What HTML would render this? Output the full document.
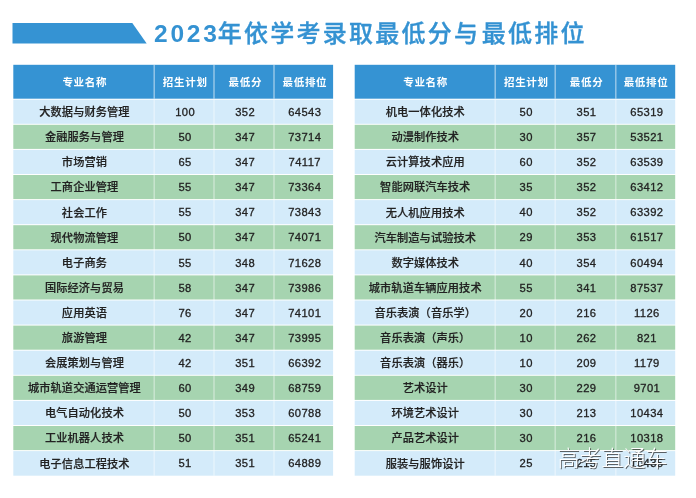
<!DOCTYPE html>
<html lang="zh-CN"><head><meta charset="utf-8"><title>2023年依学考录取最低分与最低排位</title>
<style>
html,body{margin:0;padding:0;}
body{width:696px;height:498px;background:#fff;position:relative;overflow:hidden;font-family:"Liberation Sans","Noto Sans CJK SC",sans-serif;}
.bg{position:absolute;left:0;top:0;}
.title{position:absolute;left:154px;top:14px;will-change:transform;transform:translateY(0.7px);height:38px;line-height:38px;font-size:24px;font-weight:500;-webkit-text-stroke:0.35px #3492d2;letter-spacing:2.25px;color:#3492d2;white-space:nowrap;}
.title .yr{letter-spacing:2.8px;margin-right:-2px;font-size:24.5px;font-weight:700;-webkit-text-stroke:0;position:relative;top:-0.3px;}
.title .yu{margin-right:1.5px;}
.h,.n,.d{position:absolute;will-change:transform;text-align:center;white-space:nowrap;}
.h{top:65.1px;height:34px;line-height:34px;color:#fff;font-weight:700;font-size:10.5px;letter-spacing:0.7px;text-indent:0.7px;margin-left:0.5px;}
.n,.d{height:25px;line-height:25px;font-size:11.2px;color:#222;font-weight:500;}
.n{margin-left:0.6px;letter-spacing:0.1px;-webkit-text-stroke:0.2px #222;}
.d{margin-left:0.9px;letter-spacing:0.4px;text-indent:0.4px;-webkit-text-stroke:0.3px #222;}
.wm{position:absolute;left:557.5px;top:443.5px;font-size:22px;line-height:30px;font-weight:300;color:#fff;text-shadow:1px 1px 0.5px rgba(50,50,50,0.75);white-space:nowrap;}
</style></head><body>
<svg class="bg" width="696" height="498" viewBox="0 0 696 498">
<polygon points="12.5,23 132.3,23 146.7,43.6 12.5,43.6" fill="#3593d3"/>
<rect x="13.3" y="64.8" width="319.8" height="33.9" fill="#3593d3"/>
<rect x="13.3" y="99.70" width="319.8" height="24.10" fill="#d4ebfa"/>
<rect x="13.3" y="124.80" width="319.8" height="24.10" fill="#a6d4b0"/>
<rect x="13.3" y="149.90" width="319.8" height="24.10" fill="#d4ebfa"/>
<rect x="13.3" y="175.00" width="319.8" height="24.10" fill="#a6d4b0"/>
<rect x="13.3" y="200.10" width="319.8" height="24.10" fill="#d4ebfa"/>
<rect x="13.3" y="225.20" width="319.8" height="24.10" fill="#a6d4b0"/>
<rect x="13.3" y="250.30" width="319.8" height="24.10" fill="#d4ebfa"/>
<rect x="13.3" y="275.40" width="319.8" height="24.10" fill="#a6d4b0"/>
<rect x="13.3" y="300.50" width="319.8" height="24.10" fill="#d4ebfa"/>
<rect x="13.3" y="325.60" width="319.8" height="24.10" fill="#a6d4b0"/>
<rect x="13.3" y="350.70" width="319.8" height="24.10" fill="#d4ebfa"/>
<rect x="13.3" y="375.80" width="319.8" height="24.10" fill="#a6d4b0"/>
<rect x="13.3" y="400.90" width="319.8" height="24.10" fill="#d4ebfa"/>
<rect x="13.3" y="426.00" width="319.8" height="24.10" fill="#a6d4b0"/>
<rect x="13.3" y="451.10" width="319.8" height="24.60" fill="#d4ebfa"/>
<rect x="153.50" y="64.8" width="1.4" height="33.9" fill="#fff" fill-opacity="0.5"/>
<rect x="153.50" y="99.7" width="1.4" height="376.0" fill="#fff" fill-opacity="0.42"/>
<rect x="213.30" y="64.8" width="1.4" height="33.9" fill="#fff" fill-opacity="0.5"/>
<rect x="213.30" y="99.7" width="1.4" height="376.0" fill="#fff" fill-opacity="0.42"/>
<rect x="273.30" y="64.8" width="1.4" height="33.9" fill="#fff" fill-opacity="0.5"/>
<rect x="273.30" y="99.7" width="1.4" height="376.0" fill="#fff" fill-opacity="0.42"/>
<rect x="354.7" y="64.8" width="320.5" height="33.9" fill="#3593d3"/>
<rect x="354.7" y="99.70" width="320.5" height="24.10" fill="#d4ebfa"/>
<rect x="354.7" y="124.80" width="320.5" height="24.10" fill="#a6d4b0"/>
<rect x="354.7" y="149.90" width="320.5" height="24.10" fill="#d4ebfa"/>
<rect x="354.7" y="175.00" width="320.5" height="24.10" fill="#a6d4b0"/>
<rect x="354.7" y="200.10" width="320.5" height="24.10" fill="#d4ebfa"/>
<rect x="354.7" y="225.20" width="320.5" height="24.10" fill="#a6d4b0"/>
<rect x="354.7" y="250.30" width="320.5" height="24.10" fill="#d4ebfa"/>
<rect x="354.7" y="275.40" width="320.5" height="24.10" fill="#a6d4b0"/>
<rect x="354.7" y="300.50" width="320.5" height="24.10" fill="#d4ebfa"/>
<rect x="354.7" y="325.60" width="320.5" height="24.10" fill="#a6d4b0"/>
<rect x="354.7" y="350.70" width="320.5" height="24.10" fill="#d4ebfa"/>
<rect x="354.7" y="375.80" width="320.5" height="24.10" fill="#a6d4b0"/>
<rect x="354.7" y="400.90" width="320.5" height="24.10" fill="#d4ebfa"/>
<rect x="354.7" y="426.00" width="320.5" height="24.10" fill="#a6d4b0"/>
<rect x="354.7" y="451.10" width="320.5" height="24.60" fill="#d4ebfa"/>
<rect x="494.50" y="64.8" width="1.4" height="33.9" fill="#fff" fill-opacity="0.5"/>
<rect x="494.50" y="99.7" width="1.4" height="376.0" fill="#fff" fill-opacity="0.42"/>
<rect x="554.50" y="64.8" width="1.4" height="33.9" fill="#fff" fill-opacity="0.5"/>
<rect x="554.50" y="99.7" width="1.4" height="376.0" fill="#fff" fill-opacity="0.42"/>
<rect x="615.10" y="64.8" width="1.4" height="33.9" fill="#fff" fill-opacity="0.5"/>
<rect x="615.10" y="99.7" width="1.4" height="376.0" fill="#fff" fill-opacity="0.42"/>
</svg>
<div class="title"><span class="yr">2023</span>年依学考录取最低分<span class="yu">与</span>最低排位</div>
<div class="h" style="left:13.3px;width:140.9px">专业名称</div>
<div class="h" style="left:154.2px;width:59.8px">招生计划</div>
<div class="h" style="left:214.0px;width:60.0px">最低分</div>
<div class="h" style="left:274.0px;width:59.1px">最低排位</div>
<div class="n" style="left:13.3px;width:140.9px;top:100px;transform:translateY(0.17px)">大数据与财务管理</div>
<div class="d" style="left:154.2px;width:59.8px;top:99px;transform:translateY(0.95px)">100</div>
<div class="d" style="left:214.0px;width:60.0px;top:99px;transform:translateY(0.95px)">352</div>
<div class="d" style="left:274.0px;width:59.1px;top:99px;transform:translateY(0.95px)">64543</div>
<div class="n" style="left:13.3px;width:140.9px;top:125px;transform:translateY(0.27px)">金融服务与管理</div>
<div class="d" style="left:154.2px;width:59.8px;top:125px;transform:translateY(0.05px)">50</div>
<div class="d" style="left:214.0px;width:60.0px;top:125px;transform:translateY(0.05px)">347</div>
<div class="d" style="left:274.0px;width:59.1px;top:125px;transform:translateY(0.05px)">73714</div>
<div class="n" style="left:13.3px;width:140.9px;top:150px;transform:translateY(0.37px)">市场营销</div>
<div class="d" style="left:154.2px;width:59.8px;top:150px;transform:translateY(0.15px)">65</div>
<div class="d" style="left:214.0px;width:60.0px;top:150px;transform:translateY(0.15px)">347</div>
<div class="d" style="left:274.0px;width:59.1px;top:150px;transform:translateY(0.15px)">74117</div>
<div class="n" style="left:13.3px;width:140.9px;top:175px;transform:translateY(0.47px)">工商企业管理</div>
<div class="d" style="left:154.2px;width:59.8px;top:175px;transform:translateY(0.25px)">55</div>
<div class="d" style="left:214.0px;width:60.0px;top:175px;transform:translateY(0.25px)">347</div>
<div class="d" style="left:274.0px;width:59.1px;top:175px;transform:translateY(0.25px)">73364</div>
<div class="n" style="left:13.3px;width:140.9px;top:200px;transform:translateY(0.57px)">社会工作</div>
<div class="d" style="left:154.2px;width:59.8px;top:200px;transform:translateY(0.35px)">55</div>
<div class="d" style="left:214.0px;width:60.0px;top:200px;transform:translateY(0.35px)">347</div>
<div class="d" style="left:274.0px;width:59.1px;top:200px;transform:translateY(0.35px)">73843</div>
<div class="n" style="left:13.3px;width:140.9px;top:225px;transform:translateY(0.67px)">现代物流管理</div>
<div class="d" style="left:154.2px;width:59.8px;top:225px;transform:translateY(0.45px)">50</div>
<div class="d" style="left:214.0px;width:60.0px;top:225px;transform:translateY(0.45px)">347</div>
<div class="d" style="left:274.0px;width:59.1px;top:225px;transform:translateY(0.45px)">74071</div>
<div class="n" style="left:13.3px;width:140.9px;top:250px;transform:translateY(0.77px)">电子商务</div>
<div class="d" style="left:154.2px;width:59.8px;top:250px;transform:translateY(0.55px)">55</div>
<div class="d" style="left:214.0px;width:60.0px;top:250px;transform:translateY(0.55px)">348</div>
<div class="d" style="left:274.0px;width:59.1px;top:250px;transform:translateY(0.55px)">71628</div>
<div class="n" style="left:13.3px;width:140.9px;top:275px;transform:translateY(0.87px)">国际经济与贸易</div>
<div class="d" style="left:154.2px;width:59.8px;top:275px;transform:translateY(0.65px)">58</div>
<div class="d" style="left:214.0px;width:60.0px;top:275px;transform:translateY(0.65px)">347</div>
<div class="d" style="left:274.0px;width:59.1px;top:275px;transform:translateY(0.65px)">73986</div>
<div class="n" style="left:13.3px;width:140.9px;top:300px;transform:translateY(0.97px)">应用英语</div>
<div class="d" style="left:154.2px;width:59.8px;top:300px;transform:translateY(0.75px)">76</div>
<div class="d" style="left:214.0px;width:60.0px;top:300px;transform:translateY(0.75px)">347</div>
<div class="d" style="left:274.0px;width:59.1px;top:300px;transform:translateY(0.75px)">74101</div>
<div class="n" style="left:13.3px;width:140.9px;top:326px;transform:translateY(0.07px)">旅游管理</div>
<div class="d" style="left:154.2px;width:59.8px;top:325px;transform:translateY(0.85px)">42</div>
<div class="d" style="left:214.0px;width:60.0px;top:325px;transform:translateY(0.85px)">347</div>
<div class="d" style="left:274.0px;width:59.1px;top:325px;transform:translateY(0.85px)">73995</div>
<div class="n" style="left:13.3px;width:140.9px;top:351px;transform:translateY(0.17px)">会展策划与管理</div>
<div class="d" style="left:154.2px;width:59.8px;top:350px;transform:translateY(0.95px)">42</div>
<div class="d" style="left:214.0px;width:60.0px;top:350px;transform:translateY(0.95px)">351</div>
<div class="d" style="left:274.0px;width:59.1px;top:350px;transform:translateY(0.95px)">66392</div>
<div class="n" style="left:13.3px;width:140.9px;top:376px;transform:translateY(0.27px)">城市轨道交通运营管理</div>
<div class="d" style="left:154.2px;width:59.8px;top:376px;transform:translateY(0.05px)">60</div>
<div class="d" style="left:214.0px;width:60.0px;top:376px;transform:translateY(0.05px)">349</div>
<div class="d" style="left:274.0px;width:59.1px;top:376px;transform:translateY(0.05px)">68759</div>
<div class="n" style="left:13.3px;width:140.9px;top:401px;transform:translateY(0.37px)">电气自动化技术</div>
<div class="d" style="left:154.2px;width:59.8px;top:401px;transform:translateY(0.15px)">50</div>
<div class="d" style="left:214.0px;width:60.0px;top:401px;transform:translateY(0.15px)">353</div>
<div class="d" style="left:274.0px;width:59.1px;top:401px;transform:translateY(0.15px)">60788</div>
<div class="n" style="left:13.3px;width:140.9px;top:426px;transform:translateY(0.47px)">工业机器人技术</div>
<div class="d" style="left:154.2px;width:59.8px;top:426px;transform:translateY(0.25px)">50</div>
<div class="d" style="left:214.0px;width:60.0px;top:426px;transform:translateY(0.25px)">351</div>
<div class="d" style="left:274.0px;width:59.1px;top:426px;transform:translateY(0.25px)">65241</div>
<div class="n" style="left:13.3px;width:140.9px;top:451px;transform:translateY(0.57px)">电子信息工程技术</div>
<div class="d" style="left:154.2px;width:59.8px;top:451px;transform:translateY(0.35px)">51</div>
<div class="d" style="left:214.0px;width:60.0px;top:451px;transform:translateY(0.35px)">351</div>
<div class="d" style="left:274.0px;width:59.1px;top:451px;transform:translateY(0.35px)">64889</div>
<div class="h" style="left:354.7px;width:140.5px">专业名称</div>
<div class="h" style="left:495.2px;width:60.0px">招生计划</div>
<div class="h" style="left:555.2px;width:60.6px">最低分</div>
<div class="h" style="left:615.8px;width:59.4px">最低排位</div>
<div class="n" style="left:354.7px;width:140.5px;top:100px;transform:translateY(0.17px)">机电一体化技术</div>
<div class="d" style="left:495.2px;width:60.0px;top:99px;transform:translateY(0.95px)">50</div>
<div class="d" style="left:555.2px;width:60.6px;top:99px;transform:translateY(0.95px)">351</div>
<div class="d" style="left:615.8px;width:59.4px;top:99px;transform:translateY(0.95px)">65319</div>
<div class="n" style="left:354.7px;width:140.5px;top:125px;transform:translateY(0.27px)">动漫制作技术</div>
<div class="d" style="left:495.2px;width:60.0px;top:125px;transform:translateY(0.05px)">30</div>
<div class="d" style="left:555.2px;width:60.6px;top:125px;transform:translateY(0.05px)">357</div>
<div class="d" style="left:615.8px;width:59.4px;top:125px;transform:translateY(0.05px)">53521</div>
<div class="n" style="left:354.7px;width:140.5px;top:150px;transform:translateY(0.37px)">云计算技术应用</div>
<div class="d" style="left:495.2px;width:60.0px;top:150px;transform:translateY(0.15px)">60</div>
<div class="d" style="left:555.2px;width:60.6px;top:150px;transform:translateY(0.15px)">352</div>
<div class="d" style="left:615.8px;width:59.4px;top:150px;transform:translateY(0.15px)">63539</div>
<div class="n" style="left:354.7px;width:140.5px;top:175px;transform:translateY(0.47px)">智能网联汽车技术</div>
<div class="d" style="left:495.2px;width:60.0px;top:175px;transform:translateY(0.25px)">35</div>
<div class="d" style="left:555.2px;width:60.6px;top:175px;transform:translateY(0.25px)">352</div>
<div class="d" style="left:615.8px;width:59.4px;top:175px;transform:translateY(0.25px)">63412</div>
<div class="n" style="left:354.7px;width:140.5px;top:200px;transform:translateY(0.57px)">无人机应用技术</div>
<div class="d" style="left:495.2px;width:60.0px;top:200px;transform:translateY(0.35px)">40</div>
<div class="d" style="left:555.2px;width:60.6px;top:200px;transform:translateY(0.35px)">352</div>
<div class="d" style="left:615.8px;width:59.4px;top:200px;transform:translateY(0.35px)">63392</div>
<div class="n" style="left:354.7px;width:140.5px;top:225px;transform:translateY(0.67px)">汽车制造与试验技术</div>
<div class="d" style="left:495.2px;width:60.0px;top:225px;transform:translateY(0.45px)">29</div>
<div class="d" style="left:555.2px;width:60.6px;top:225px;transform:translateY(0.45px)">353</div>
<div class="d" style="left:615.8px;width:59.4px;top:225px;transform:translateY(0.45px)">61517</div>
<div class="n" style="left:354.7px;width:140.5px;top:250px;transform:translateY(0.77px)">数字媒体技术</div>
<div class="d" style="left:495.2px;width:60.0px;top:250px;transform:translateY(0.55px)">40</div>
<div class="d" style="left:555.2px;width:60.6px;top:250px;transform:translateY(0.55px)">354</div>
<div class="d" style="left:615.8px;width:59.4px;top:250px;transform:translateY(0.55px)">60494</div>
<div class="n" style="left:354.7px;width:140.5px;top:275px;transform:translateY(0.87px)">城市轨道车辆应用技术</div>
<div class="d" style="left:495.2px;width:60.0px;top:275px;transform:translateY(0.65px)">55</div>
<div class="d" style="left:555.2px;width:60.6px;top:275px;transform:translateY(0.65px)">341</div>
<div class="d" style="left:615.8px;width:59.4px;top:275px;transform:translateY(0.65px)">87537</div>
<div class="n" style="left:354.7px;width:140.5px;top:300px;transform:translateY(0.97px)">音乐表演（音乐学）</div>
<div class="d" style="left:495.2px;width:60.0px;top:300px;transform:translateY(0.75px)">20</div>
<div class="d" style="left:555.2px;width:60.6px;top:300px;transform:translateY(0.75px)">216</div>
<div class="d" style="left:615.8px;width:59.4px;top:300px;transform:translateY(0.75px)">1126</div>
<div class="n" style="left:354.7px;width:140.5px;top:326px;transform:translateY(0.07px)">音乐表演（声乐）</div>
<div class="d" style="left:495.2px;width:60.0px;top:325px;transform:translateY(0.85px)">10</div>
<div class="d" style="left:555.2px;width:60.6px;top:325px;transform:translateY(0.85px)">262</div>
<div class="d" style="left:615.8px;width:59.4px;top:325px;transform:translateY(0.85px)">821</div>
<div class="n" style="left:354.7px;width:140.5px;top:351px;transform:translateY(0.17px)">音乐表演（器乐）</div>
<div class="d" style="left:495.2px;width:60.0px;top:350px;transform:translateY(0.95px)">10</div>
<div class="d" style="left:555.2px;width:60.6px;top:350px;transform:translateY(0.95px)">209</div>
<div class="d" style="left:615.8px;width:59.4px;top:350px;transform:translateY(0.95px)">1179</div>
<div class="n" style="left:354.7px;width:140.5px;top:376px;transform:translateY(0.27px)">艺术设计</div>
<div class="d" style="left:495.2px;width:60.0px;top:376px;transform:translateY(0.05px)">30</div>
<div class="d" style="left:555.2px;width:60.6px;top:376px;transform:translateY(0.05px)">229</div>
<div class="d" style="left:615.8px;width:59.4px;top:376px;transform:translateY(0.05px)">9701</div>
<div class="n" style="left:354.7px;width:140.5px;top:401px;transform:translateY(0.37px)">环境艺术设计</div>
<div class="d" style="left:495.2px;width:60.0px;top:401px;transform:translateY(0.15px)">30</div>
<div class="d" style="left:555.2px;width:60.6px;top:401px;transform:translateY(0.15px)">213</div>
<div class="d" style="left:615.8px;width:59.4px;top:401px;transform:translateY(0.15px)">10434</div>
<div class="n" style="left:354.7px;width:140.5px;top:426px;transform:translateY(0.47px)">产品艺术设计</div>
<div class="d" style="left:495.2px;width:60.0px;top:426px;transform:translateY(0.25px)">30</div>
<div class="d" style="left:555.2px;width:60.6px;top:426px;transform:translateY(0.25px)">216</div>
<div class="d" style="left:615.8px;width:59.4px;top:426px;transform:translateY(0.25px)">10318</div>
<div class="n" style="left:354.7px;width:140.5px;top:451px;transform:translateY(0.57px)">服装与服饰设计</div>
<div class="d" style="left:495.2px;width:60.0px;top:451px;transform:translateY(0.35px)">25</div>
<div class="d" style="left:555.2px;width:60.6px;top:451px;transform:translateY(0.35px)">215</div>
<div class="d" style="left:615.8px;width:59.4px;top:451px;transform:translateY(0.35px)">10435</div>
<div class="wm">高考直通车</div>
</body></html>
